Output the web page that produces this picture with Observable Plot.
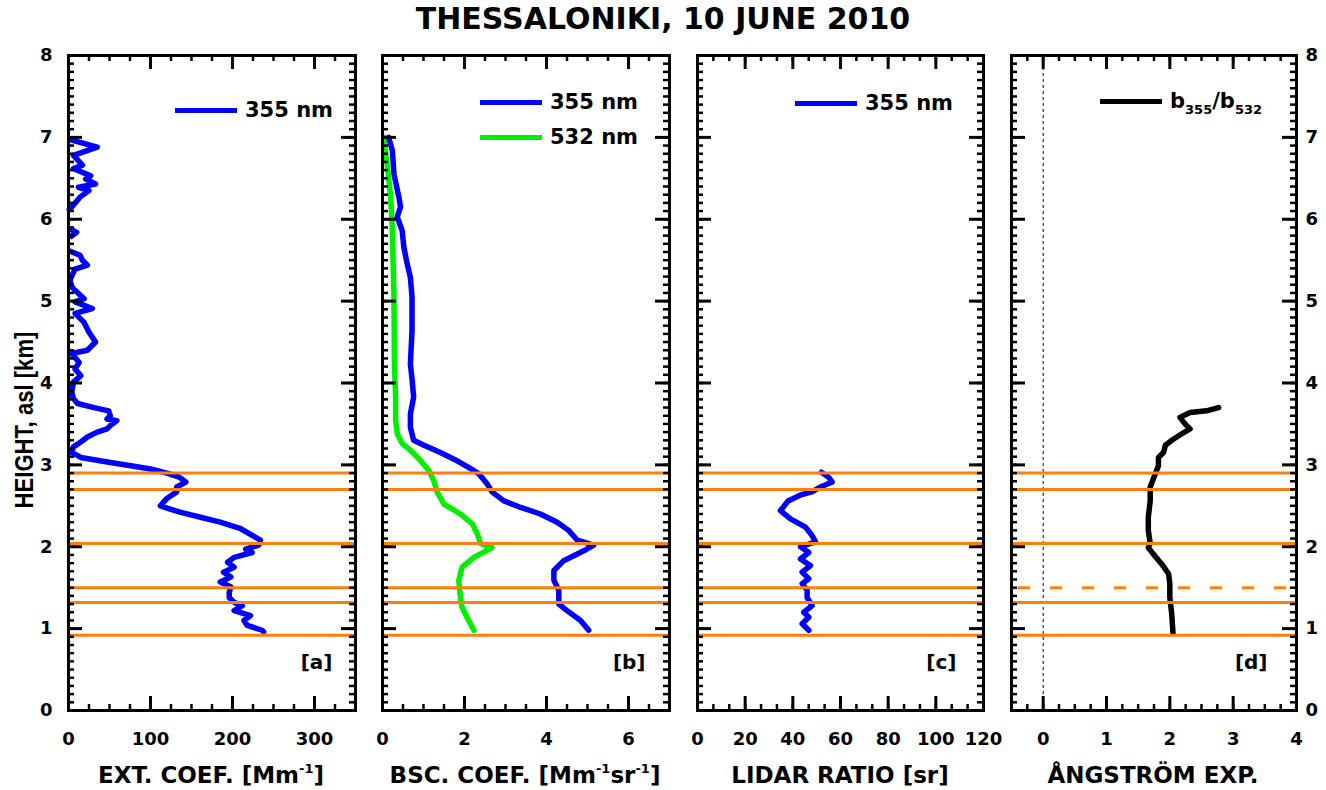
<!DOCTYPE html>
<html>
<head>
<meta charset="utf-8">
<script src="https://cdn.jsdelivr.net/npm/d3@7"></script>
<script src="https://cdn.jsdelivr.net/npm/@observablehq/plot@0.6"></script>
<style>
  body { margin: 0; background: #fff; }
  #fig { position: relative; width: 1326px; height: 790px; overflow: hidden; background: #fff;
         font-family: "DejaVu Sans", sans-serif; font-weight: bold; color: #000; }
  #title { position: absolute; left: 0; top: 1px; width: 1326px; text-align: center; font-size: 30px; line-height: 36px; }
  .panel { position: absolute; top: 40px; }
  .xt { position: absolute; top: 761px; font-size: 23px; line-height: 28px; white-space: nowrap; transform: translateX(-50%); }
  .xt sup { font-size: 13px; vertical-align: 10px; line-height: 0; }
  #ytitle { position: absolute; left: 24px; top: 420px; font-family: "Liberation Sans", Arial, sans-serif;
            font-size: 26px; line-height: 26px; white-space: nowrap;
            transform: translate(-50%, -50%) rotate(-90deg) scaleX(0.85); }
  .leg { position: absolute; height: 24px; display: flex; align-items: center; font-size: 21px; white-space: nowrap; }
  .leg .sw { display: inline-block; width: 62px; height: 5px; margin-right: 8px; }
  .leg sub { font-size: 13px; vertical-align: -6px; line-height: 0; }
</style>
</head>
<body>
<div id="fig">
  <div id="title">THESSALONIKI, 10 JUNE 2010</div>
  <div id="ytitle">HEIGHT, asl [km]</div>
</div>
<script>
// ---- profiles: [height km a.s.l., value] ----
const ext355 = [
  [6.97, 3], [6.88, 35], [6.78, 6], [6.66, 17], [6.62, 6], [6.53, 27], [6.49, 21], [6.43, 33],
  [6.39, 12], [6.35, 25], [6.27, 14], [6.15, 4], [6.12, 1], [6.0, null],
  [5.88, 2], [5.84, 10], [5.79, 3], [5.7, null],
  [5.61, 2], [5.56, 14], [5.50, 17], [5.44, 23], [5.39, 8], [5.31, 4], [5.26, 2], [5.20, 3],
  [5.15, 6], [5.03, 19], [4.99, 8], [4.91, 29], [4.85, 8], [4.74, 19], [4.62, 25], [4.50, 33],
  [4.40, 23], [4.36, 4], [4.25, 13], [4.17, 8], [4.09, 15], [4.01, 6], [3.89, 4], [3.81, 6],
  [3.75, 11], [3.70, 31], [3.66, 49], [3.60, 51], [3.56, 47], [3.54, 59], [3.48, 51], [3.44, 47],
  [3.40, 35], [3.34, 23], [3.28, 15], [3.22, 6], [3.15, 4], [3.11, 12], [3.09, 15], [3.03, 51],
  [2.99, 76], [2.95, 100], [2.90, 120], [2.85, 135], [2.79, 143], [2.73, 132], [2.67, 132],
  [2.59, 120], [2.50, 112], [2.46, 124], [2.42, 137], [2.36, 161], [2.30, 185], [2.22, 210],
  [2.14, 224], [2.08, 234], [2.02, 232], [1.97, 216], [1.93, 224], [1.87, 202], [1.81, 194],
  [1.75, 202], [1.69, 189], [1.63, 198], [1.57, 185], [1.51, 198], [1.44, 196], [1.38, 196],
  [1.32, 202], [1.28, 212], [1.22, 202], [1.16, 222], [1.10, 214], [1.04, 218], [0.98, 236], [0.96, 238]
];
const bsc355 = [
  [7.00, 0.15], [6.84, 0.24], [6.55, 0.28], [6.27, 0.40], [6.15, 0.44], [6.03, 0.36], [5.86, 0.48],
  [5.66, 0.52], [5.46, 0.60], [5.29, 0.68], [5.05, 0.72], [4.64, 0.72], [4.23, 0.68], [4.05, 0.72],
  [3.83, 0.76], [3.62, 0.68], [3.46, 0.68], [3.30, 0.76], [3.24, 1.01], [3.15, 1.41], [3.05, 1.82],
  [2.97, 2.10], [2.89, 2.35], [2.77, 2.55], [2.67, 2.67], [2.56, 2.96], [2.48, 3.37], [2.40, 3.85],
  [2.30, 4.26], [2.20, 4.54], [2.08, 4.75], [2.02, 5.15], [1.95, 4.91], [1.83, 4.42], [1.71, 4.18],
  [1.59, 4.18], [1.47, 4.30], [1.30, 4.30], [1.22, 4.50], [1.10, 4.83], [0.98, 5.03]
];
const bsc532 = [
  [7.00, 0.03], [6.68, 0.11], [6.27, 0.20], [5.86, 0.24], [5.05, 0.28], [4.23, 0.29], [3.83, 0.32],
  [3.54, 0.32], [3.38, 0.36], [3.26, 0.48], [3.18, 0.68], [3.05, 0.93], [2.93, 1.13], [2.81, 1.25],
  [2.67, 1.33], [2.52, 1.50], [2.40, 1.90], [2.28, 2.19], [2.16, 2.31], [2.04, 2.39], [1.99, 2.67],
  [1.87, 2.23], [1.75, 1.94], [1.59, 1.86], [1.38, 1.90], [1.26, 1.94], [1.10, 2.10], [0.98, 2.23]
];
const lidarRatio355 = [
  [2.91, 52], [2.85, 55], [2.79, 56.5], [2.73, 51.6], [2.67, 48], [2.63, 43], [2.56, 38], [2.44, 34.8],
  [2.34, 39], [2.24, 45.3], [2.14, 48], [2.06, 49.5], [2.00, 43.2], [1.93, 46.7], [1.85, 43.2],
  [1.77, 47.4], [1.69, 43.9], [1.61, 46.7], [1.55, 43.9], [1.47, 46], [1.38, 46], [1.28, 48.1],
  [1.20, 44.6], [1.14, 46.7], [1.06, 43.9], [0.98, 46.7]
];
const angstrom = [
  [3.70, 2.77], [3.66, 2.58], [3.64, 2.32], [3.58, 2.16], [3.50, 2.24], [3.44, 2.32], [3.38, 2.19],
  [3.30, 2.03], [3.24, 1.93], [3.15, 1.90], [3.09, 1.82], [2.99, 1.82], [2.89, 1.77], [2.73, 1.69],
  [2.56, 1.69], [2.36, 1.66], [2.20, 1.66], [2.04, 1.69], [1.99, 1.66], [1.91, 1.74], [1.79, 1.87],
  [1.67, 1.98], [1.55, 2.00], [1.38, 2.00], [1.18, 2.03], [0.94, 2.05]
];

// layer boundaries (km); the 1.5 km one is dashed in the Ångström panel
const layerBounds = [0.92, 1.32, 1.50, 2.04, 2.70, 2.90];
const dashedInAngstrom = [1.50];

// axis ticks
const heightTicks = [0, 1, 2, 3, 4, 5, 6, 7, 8];
const extTicks = [0, 100, 200, 300];
const bscTicks = [0, 2, 4, 6];
const lrTicks = [0, 20, 40, 60, 80, 100, 120];
const aeTicks = [0, 1, 2, 3, 4];

const FONT = '"DejaVu Sans", sans-serif';
const BLUE = "#0000ff", GREEN = "#00f000", ORANGE = "#ff7f0e";
const FH = 655; // frame height in px

function panel({left, width, ml, mr, xDomain, major, minor, leftLabels, rightLabels, tag, tagDx, marks}) {
  const fw = width - ml - mr;
  const yMinor = d3.range(0, 8.001, 0.1);
  const fmt = d => String(d);
  const axes = [
    Plot.axisX(major, {anchor: "bottom", tickSize: 0, tickPadding: 22, fontSize: 18, tickFormat: fmt, label: null}),
  ];
  if (leftLabels) axes.push(Plot.axisY(heightTicks, {anchor: "left", tickSize: 0, tickPadding: 16, fontSize: 18, tickFormat: fmt, label: null}));
  if (rightLabels) axes.push(Plot.axisY(heightTicks, {anchor: "right", tickSize: 0, tickPadding: 9, fontSize: 18, tickFormat: fmt, label: null}));
  const svg = Plot.plot({
    width, height: 710,
    marginTop: 15, marginBottom: 40, marginLeft: ml, marginRight: mr,
    x: {domain: xDomain, axis: null},
    y: {domain: [0, 8], axis: null},
    style: {background: "transparent", overflow: "visible", fontFamily: FONT, fontWeight: "bold", color: "#000"},
    marks: [
      ...marks,
      // inward ticks on all four sides
      Plot.tickX(minor, {x: d => d, insetTop: FH - 6, strokeWidth: 2.5}),
      Plot.tickX(minor, {x: d => d, insetBottom: FH - 6, strokeWidth: 2.5}),
      Plot.tickX(major, {x: d => d, insetTop: FH - 14, strokeWidth: 3}),
      Plot.tickX(major, {x: d => d, insetBottom: FH - 14, strokeWidth: 3}),
      Plot.tickY(yMinor, {y: d => d, insetRight: fw - 6, strokeWidth: 2.5}),
      Plot.tickY(yMinor, {y: d => d, insetLeft: fw - 6, strokeWidth: 2.5}),
      Plot.tickY(heightTicks, {y: d => d, insetRight: fw - 14, strokeWidth: 3}),
      Plot.tickY(heightTicks, {y: d => d, insetLeft: fw - 14, strokeWidth: 3}),
      Plot.frame({strokeWidth: 3}),
      Plot.text([tag], {frameAnchor: "bottom-right", dx: tagDx, dy: -42, textAnchor: "end", fontSize: 20, fontWeight: "bold"}),
      ...axes
    ]
  });
  svg.classList.add("panel");
  svg.style.left = left + "px";
  document.getElementById("fig").appendChild(svg);
  return svg;
}

const solidBounds = layerBounds.filter(h => !dashedInAngstrom.includes(h));
const layerRules = Plot.ruleY(layerBounds, {y: d => d, stroke: ORANGE, strokeWidth: 3});
const lineOpts = (stroke) => ({x: d => d[1], y: d => d[0], stroke, strokeWidth: 5.5, strokeLinejoin: "round", strokeLinecap: "round"});

// [a] extinction coefficient
panel({
  left: 0, width: 368, ml: 68, mr: 13, xDomain: [0, 350],
  major: extTicks, minor: d3.range(0, 350.1, 25), leftLabels: true, tag: "[a]", tagDx: -23,
  marks: [
    Plot.line(ext355, lineOpts(BLUE)),
    layerRules
  ]
});

// [b] backscatter coefficient
panel({
  left: 370, width: 310, ml: 12, mr: 11, xDomain: [0, 7],
  major: bscTicks, minor: d3.range(0, 7.01, 0.5), tag: "[b]", tagDx: -24,
  marks: [
    Plot.line(bsc532, lineOpts(GREEN)),
    Plot.line(bsc355, lineOpts(BLUE)),
    layerRules
  ]
});

// [c] lidar ratio
panel({
  left: 685, width: 310, ml: 12, mr: 12, xDomain: [0, 120],
  major: lrTicks, minor: d3.range(0, 120.01, 20 / 3), tag: "[c]", tagDx: -27,
  marks: [
    Plot.line(lidarRatio355, lineOpts(BLUE)),
    layerRules
  ]
});

// [d] backscatter-related Ångström exponent
panel({
  left: 999, width: 327, ml: 12, mr: 30, xDomain: [-0.5, 4],
  major: aeTicks, minor: d3.range(-0.25, 4.01, 0.25), rightLabels: true, tag: "[d]", tagDx: -29,
  marks: [
    Plot.ruleX([0], {x: d => d, stroke: "#000", strokeWidth: 1, strokeDasharray: "3,3"}),
    Plot.line(angstrom, lineOpts("#000")),
    Plot.ruleY(solidBounds, {y: d => d, stroke: ORANGE, strokeWidth: 3}),
    Plot.ruleY(dashedInAngstrom, {y: d => d, stroke: ORANGE, strokeWidth: 3, strokeDasharray: "12,20", insetLeft: 7, insetRight: 7})
  ]
});

// axis titles and legends
const fig = document.getElementById("fig");
const xTitles = [
  {cx: 211, html: "EXT. COEF. [Mm<sup>-1</sup>]"},
  {cx: 525, html: "BSC. COEF. [Mm<sup>-1</sup>sr<sup>-1</sup>]"},
  {cx: 840, html: "LIDAR RATIO [sr]"},
  {cx: 1153, html: "ÅNGSTRÖM EXP."}
];
for (const t of xTitles) {
  const d = document.createElement("div");
  d.className = "xt";
  d.style.left = t.cx + "px";
  d.innerHTML = t.html;
  fig.appendChild(d);
}
const legends = [
  {x: 175, y: 110, color: BLUE, html: "355 nm"},
  {x: 480, y: 102, color: BLUE, html: "355 nm"},
  {x: 480, y: 137, color: GREEN, html: "532 nm"},
  {x: 795, y: 103, color: BLUE, html: "355 nm"},
  {x: 1100, y: 101, color: "#000", html: "b<sub>355</sub>/b<sub>532</sub>"}
];
for (const l of legends) {
  const d = document.createElement("div");
  d.className = "leg";
  d.style.left = l.x + "px";
  d.style.top = (l.y - 12) + "px";
  d.innerHTML = `<span class="sw" style="background:${l.color}"></span><span>${l.html}</span>`;
  fig.appendChild(d);
}
</script>
</body>
</html>
